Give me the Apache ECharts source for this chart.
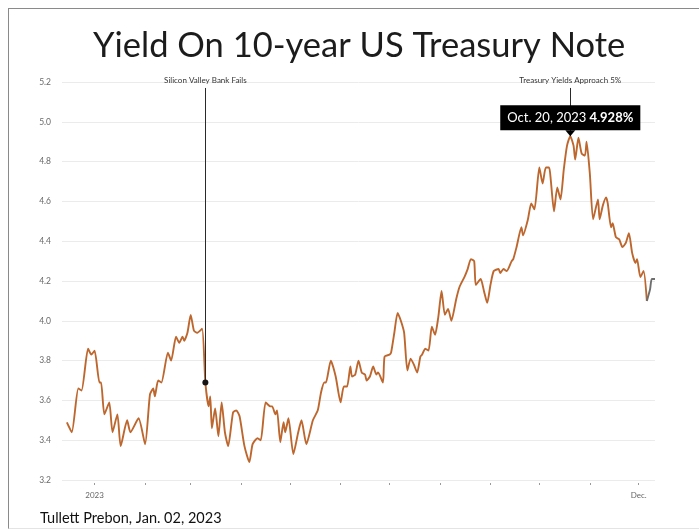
<!DOCTYPE html>
<html>
<head>
<meta charset="utf-8">
<title>Yield On 10-year US Treasury Note</title>
<script src="https://cdn.jsdelivr.net/npm/echarts@6/dist/echarts.min.js"></script>
<style>
  html, body { margin: 0; padding: 0; background: #fff; }
  #chart { position: absolute; left: 0; top: 0; width: 699px; height: 531px; }
  #frame { position: absolute; left: 8px; top: 8px; right: 0; bottom: 2px;
           border-left: 1px solid #8a8a8a; border-top: 1px solid #8a8a8a;
           border-bottom: 1px solid #e4e4e4; pointer-events: none; }
</style>
</head>
<body>
<div id="chart"></div>
<div id="frame"></div>
<script>
// 10-year Treasury yield (%), daily readings
const dates = [
  '2022-12-15','2022-12-18','2022-12-22','2022-12-24','2022-12-28','2022-12-30',
  '2023-01-01','2023-01-04','2023-01-05','2023-01-07','2023-01-10','2023-01-12','2023-01-15','2023-01-17','2023-01-21','2023-01-23','2023-01-28',
  '2023-02-01','2023-02-04','2023-02-06','2023-02-07','2023-02-09','2023-02-11','2023-02-15','2023-02-17','2023-02-20','2023-02-22','2023-02-24','2023-02-25','2023-02-27',
  '2023-03-01','2023-03-03','2023-03-05','2023-03-08','2023-03-10','2023-03-12','2023-03-13','2023-03-14','2023-03-16','2023-03-18','2023-03-20','2023-03-22','2023-03-24','2023-03-27','2023-03-29','2023-03-31',
  '2023-04-03','2023-04-06','2023-04-08','2023-04-11','2023-04-13','2023-04-16','2023-04-19','2023-04-20','2023-04-22','2023-04-23','2023-04-25','2023-04-27','2023-04-28','2023-04-30',
  '2023-05-03','2023-05-06','2023-05-08','2023-05-11','2023-05-15','2023-05-18','2023-05-20','2023-05-22','2023-05-23','2023-05-26','2023-05-29',
  '2023-06-01','2023-06-03','2023-06-05','2023-06-07','2023-06-08','2023-06-10','2023-06-12','2023-06-14','2023-06-16','2023-06-17','2023-06-19','2023-06-21','2023-06-23','2023-06-24','2023-06-27','2023-06-28',
  '2023-07-01','2023-07-02','2023-07-04','2023-07-06','2023-07-08','2023-07-10','2023-07-12','2023-07-14','2023-07-16','2023-07-18','2023-07-20','2023-07-21','2023-07-23','2023-07-25','2023-07-27','2023-07-29','2023-07-31',
  '2023-08-02','2023-08-04','2023-08-06','2023-08-08','2023-08-11','2023-08-13','2023-08-16','2023-08-18','2023-08-20','2023-08-22','2023-08-23','2023-08-26','2023-08-28','2023-08-30',
  '2023-09-01','2023-09-03','2023-09-06','2023-09-07','2023-09-09','2023-09-11','2023-09-14','2023-09-15','2023-09-17','2023-09-20','2023-09-21','2023-09-24','2023-09-26','2023-09-28',
  '2023-10-01','2023-10-03','2023-10-05','2023-10-07','2023-10-08','2023-10-10','2023-10-12','2023-10-14','2023-10-16','2023-10-18','2023-10-20','2023-10-22','2023-10-23','2023-10-25','2023-10-27','2023-10-29','2023-10-30',
  '2023-11-01','2023-11-03','2023-11-06','2023-11-07','2023-11-09','2023-11-11','2023-11-12','2023-11-14','2023-11-15','2023-11-17','2023-11-19','2023-11-21','2023-11-23','2023-11-25','2023-11-27','2023-11-29','2023-11-30',
  '2023-12-02','2023-12-04','2023-12-06','2023-12-08','2023-12-09','2023-12-11'
];
const yields = [
  3.49, 3.44, 3.66, 3.65, 3.86, 3.83,
  3.85, 3.69, 3.69, 3.53, 3.59, 3.44, 3.53, 3.37, 3.50, 3.44, 3.51,
  3.38, 3.63, 3.66, 3.62, 3.70, 3.69, 3.84, 3.80, 3.92, 3.89, 3.92, 3.90, 3.94,
  4.03, 3.95, 3.94, 3.96, 3.69, 3.57, 3.62, 3.46, 3.56, 3.42, 3.59, 3.44, 3.37, 3.54, 3.55, 3.52,
  3.37, 3.29, 3.38, 3.41, 3.40, 3.59, 3.57, 3.57, 3.53, 3.55, 3.39, 3.49, 3.44, 3.51,
  3.33, 3.44, 3.50, 3.38, 3.50, 3.55, 3.64, 3.69, 3.69, 3.80, 3.72,
  3.59, 3.67, 3.67, 3.77, 3.72, 3.73, 3.80, 3.74, 3.73, 3.70, 3.72, 3.77, 3.73, 3.74, 3.69, 3.82,
  3.83, 3.84, 3.94, 4.04, 4.00, 3.94, 3.75, 3.81, 3.78, 3.74, 3.82, 3.83, 3.86, 3.85, 3.97, 3.93, 4.02,
  4.15, 4.03, 4.06, 4.00, 4.11, 4.17, 4.22, 4.26, 4.31, 4.30, 4.18, 4.21, 4.15, 4.09,
  4.18, 4.25, 4.26, 4.24, 4.26, 4.25, 4.30, 4.31, 4.37, 4.47, 4.43, 4.51, 4.59, 4.56,
  4.77, 4.69, 4.77, 4.77, 4.71, 4.55, 4.67, 4.61, 4.76, 4.88, 4.928, 4.88, 4.81, 4.92, 4.84, 4.83, 4.90,
  4.74, 4.51, 4.61, 4.51, 4.58, 4.62, 4.59, 4.47, 4.49, 4.42, 4.41, 4.37, 4.39, 4.44, 4.34, 4.29, 4.31,
  4.22, 4.25, 4.10, 4.16, 4.21, 4.21
];

// y axis ticks
const yTicks = [3.2, 3.4, 3.6, 3.8, 4.0, 4.2, 4.4, 4.6, 4.8, 5.0, 5.2];

// axis window and annotations
const axisStart = '2022-12-12';
const axisEnd = '2023-12-11';
const svbDate = '2023-03-10';
const svbText = 'Silicon Valley Bank Fails';
const peakDate = '2023-10-20';
const peakDateText = 'Oct. 20, 2023';
const peakText = 'Treasury Yields Approach 5%';
const calloutTop = 5.17;          // where the annotation leader lines begin
const recentFrom = '2023-12-06';  // latest stretch drawn in grey

const svbValue = yields[dates.indexOf(svbDate)];
const peakValue = yields[dates.indexOf(peakDate)];

const LINE = '#bd672e';
const RECENT = '#6e6e6e';
const FONT = 'Lato, "Noto Sans", sans-serif';

const points = dates.map((d, i) => [d, yields[i]]);
const split = dates.indexOf(recentFrom);
const mainPoints = points.slice(0, split + 1);
const recentPoints = points.slice(split);

const chart = echarts.init(document.getElementById('chart'), null, { renderer: 'canvas' });

chart.setOption({
  backgroundColor: '#ffffff',
  animation: false,
  textStyle: { fontFamily: FONT },
  title: [
    {
      text: 'Yield On 10-year US Treasury Note',
      left: 88,
      top: 23,
      textStyle: { fontFamily: FONT, fontSize: 34.5, fontWeight: 'normal', color: '#1c1c1c' }
    },
    {
      text: 'Tullett Prebon, Jan. 02, 2023',
      left: 35,
      top: 506,
      textStyle: { fontFamily: FONT, fontSize: 14.5, fontWeight: 'normal', color: '#111' }
    }
  ],
  grid: { left: 62, right: 44, top: 82, bottom: 51 },
  xAxis: {
    type: 'time',
    min: axisStart,
    max: axisEnd,
    offset: 3,
    minInterval: 28 * 86400000,
    maxInterval: 31 * 86400000,
    axisLine: { show: false },
    axisTick: { show: true, length: 2, lineStyle: { color: '#9a9a9a', width: 1 } },
    splitLine: { show: false },
    axisLabel: {
      margin: 8,
      fontSize: 8,
      color: '#666',
      fontFamily: FONT,
      formatter: function (value) {
        const d = new Date(value);
        if (d.getMonth() === 0) return String(d.getFullYear());
        if (d.getMonth() === 11) return 'Dec.';
        return '';
      }
    }
  },
  yAxis: {
    type: 'value',
    min: yTicks[0],
    max: yTicks[yTicks.length - 1],
    interval: 0.2,
    axisLine: { show: false },
    axisTick: { show: false },
    axisLabel: {
      margin: 11,
      fontSize: 8.5,
      color: '#6a6a6a',
      fontFamily: FONT,
      formatter: function (v) { return v.toFixed(1); }
    },
    splitLine: { lineStyle: { color: '#ebebeb', width: 1 } }
  },
  series: [
    {
      type: 'line',
      data: mainPoints,
      showSymbol: false,
      smooth: 0.2,
      lineStyle: { width: 1.9, color: LINE, join: 'round' },
      itemStyle: { color: LINE },
      z: 3,
      markLine: {
        silent: true,
        symbol: ['none', 'none'],
        animation: false,
        lineStyle: { color: '#2a2a2a', width: 1, type: 'solid' },
        label: {
          position: 'start',
          distance: 4,
          fontSize: 8,
          color: '#333',
          fontFamily: FONT
        },
        data: [
          [
            { coord: [svbDate, calloutTop], label: { formatter: svbText } },
            { coord: [svbDate, svbValue] }
          ],
          [
            { coord: [peakDate, calloutTop], label: { formatter: peakText } },
            { coord: [peakDate, peakValue] }
          ]
        ]
      },
      markPoint: {
        silent: true,
        animation: false,
        data: [
          {
            coord: [svbDate, svbValue],
            symbol: 'circle',
            symbolSize: 6,
            itemStyle: { color: '#151515' },
            label: { show: false }
          },
          {
            coord: [peakDate, peakValue],
            symbol: 'triangle',
            symbolRotate: 180,
            symbolSize: [10, 6],
            symbolOffset: [0, -3],
            itemStyle: { color: '#000' },
            label: {
              show: true,
              position: 'top',
              distance: 0,
              backgroundColor: '#000',
              padding: [6, 7, 5, 7],
              formatter: '{d|' + peakDateText + '} {v|' + peakValue.toFixed(3) + '%}',
              rich: {
                d: { color: '#fff', fontSize: 13, fontFamily: FONT, lineHeight: 14 },
                v: { color: '#fff', fontSize: 13, fontWeight: 'bold', fontFamily: FONT, lineHeight: 14 }
              }
            }
          }
        ]
      }
    },
    {
      type: 'line',
      data: recentPoints,
      showSymbol: false,
      smooth: 0.2,
      lineStyle: { width: 1.9, color: RECENT, join: 'round' },
      itemStyle: { color: RECENT },
      z: 3
    }
  ]
});
</script>
</body>
</html>
